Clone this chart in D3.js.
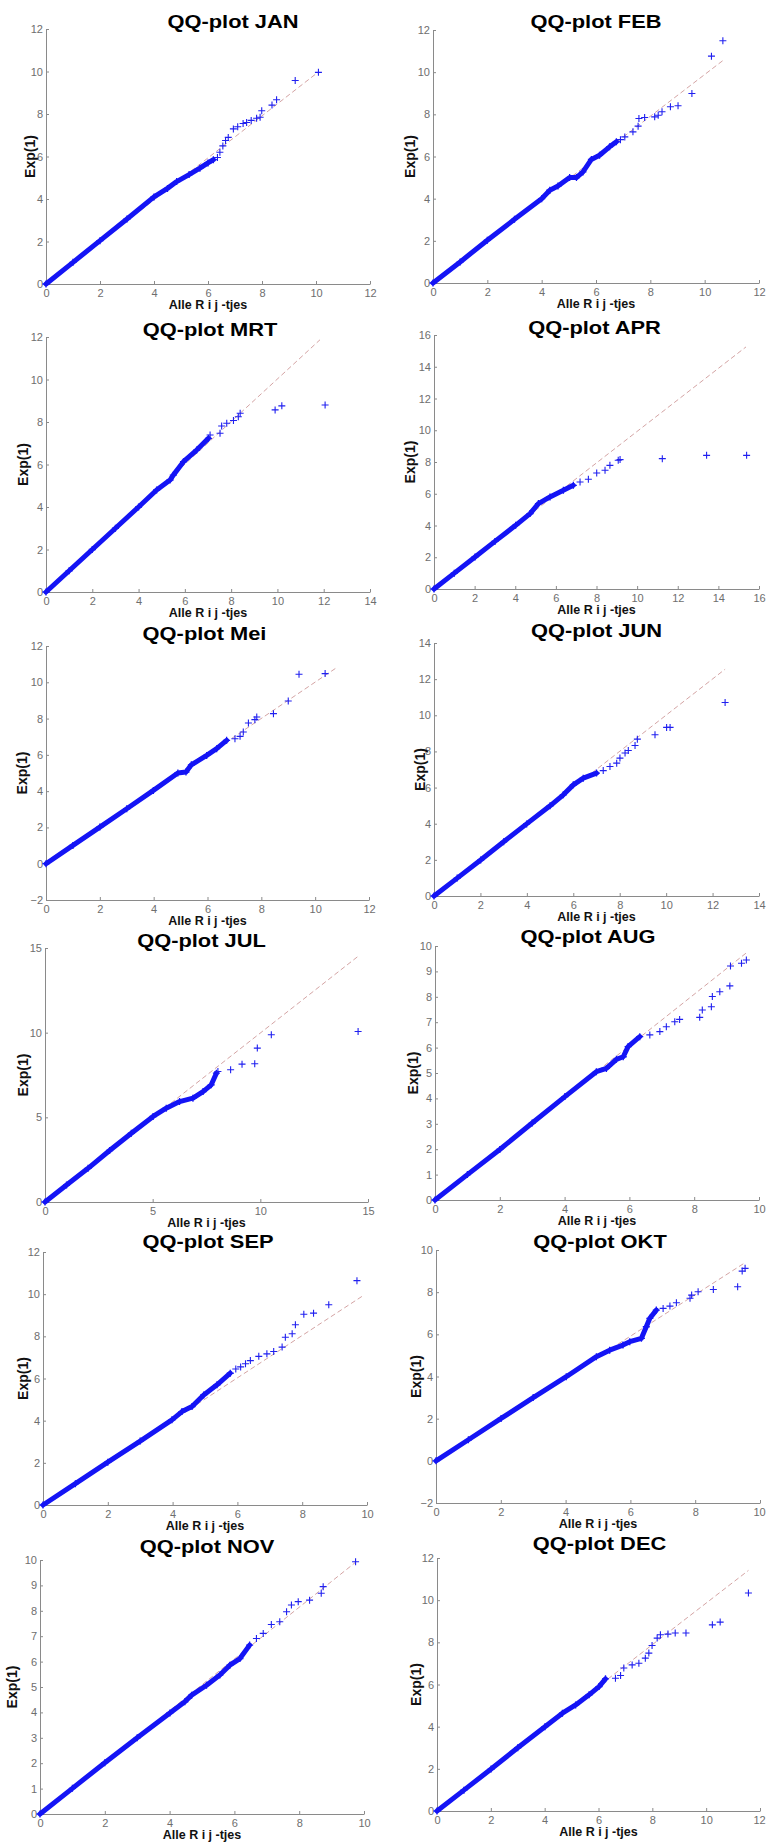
<!DOCTYPE html>
<html>
<head>
<meta charset="utf-8">
<script src="https://cdn.jsdelivr.net/npm/d3@7"></script>
<style>
  body { margin: 0; background: #fff; }
  text { font-family: "Liberation Sans", Arial, sans-serif; }
</style>
</head>
<body>
<div id="my_dataviz"></div>
<script>
// month names and axis ranges
var months = ["JAN", "FEB", "MRT", "APR", "Mei", "JUN", "JUL", "AUG", "SEP", "OKT", "NOV", "DEC"];
var xDomains = [[0,12],[0,12],[0,14],[0,16],[0,12],[0,14],[0,15],[0,10],[0,10],[0,10],[0,10],[0,12]];
var yDomains = [[0,12],[0,12],[0,12],[0,16],[-2,12],[0,14],[0,15],[0,10],[0,12],[-2,10],[0,10],[0,12]];
var xTickStep = [2,2,2,2,2,2,5,2,2,2,2,2];
var yTickStep = [2,2,2,2,2,2,5,1,2,2,1,2];

// end point of the reference line (starts at 0,0)
var refEnds = [[10.09,9.98],[10.67,10.55],[11.84,11.87],[15.36,15.25],[10.8,10.81],[12.54,12.55],
               [14.54,14.51],[9.66,9.78],[9.85,9.9],[9.54,9.4],[9.74,9.91],[11.57,11.41]];

// dense part of each QQ curve (x = Alle R i j -tjes, y = Exp(1))
var curveJAN = [[0,0],[1,1.02],[2,2.04],[3,3.06],[4,4.1],[4.5,4.5],[4.84,4.82],[5.3,5.15],[5.7,5.45],[6.0,5.7],[6.2,5.85]];
var curveFEB = [[0,0],[1,1.0],[2,2.03],[3,3.02],[4,4.0],[4.3,4.4],[4.6,4.6],[5.03,5.0],[5.28,5.0],[5.52,5.27],[5.83,5.86],[6.13,6.06],[6.5,6.46],[6.75,6.7]];
var curveMRT = [[0,0],[1,1.0],[2,2.0],[3,3.0],[4,4.0],[4.78,4.8],[5.36,5.27],[5.5,5.5],[5.94,6.13],[6.51,6.68],[7.02,7.23]];
var curveAPR = [[0,0],[1,1.0],[2.02,2.02],[3,3.0],[4.02,4.01],[4.73,4.75],[5.14,5.38],[5.71,5.8],[6.37,6.22],[6.86,6.53]];
var curveMei = [[0,0],[1,1.01],[2,2.02],[3,3.03],[3.99,4.04],[4.9,5.0],[5.2,5.05],[5.4,5.45],[5.97,5.97],[6.34,6.34],[6.71,6.8]];
var curveJUN = [[0,0],[1,0.99],[2.01,1.99],[3,3.0],[3.99,3.99],[5.0,4.99],[5.57,5.6],[6.0,6.15],[6.43,6.52],[7.0,6.8]];
var curveJUL = [[0,0],[1,1.0],[2,1.99],[3,3.04],[4.01,4.06],[5.02,5.05],[5.63,5.54],[6.25,5.93],[6.87,6.13],[7.34,6.52],[7.72,6.92],[7.96,7.61]];
var curveAUG = [[0,0],[1,1.0],[2,1.99],[3,3.03],[4.01,4.07],[4.98,5.05],[5.29,5.18],[5.6,5.54],[5.81,5.64],[5.96,6.04],[6.32,6.43]];
var curveSEP = [[0,0],[1,1.01],[2,2.03],[3,3.03],[3.98,4.04],[4.29,4.43],[4.6,4.67],[4.96,5.22],[5.37,5.7],[5.78,6.25]];
var curveOKT = [[0,0],[1,1.0],[2.01,2.01],[3,3.0],[4.02,3.99],[4.95,4.94],[5.36,5.25],[5.77,5.49],[5.98,5.65],[6.34,5.81],[6.49,6.36],[6.6,6.76],[6.8,7.15]];
var curveNOV = [[0,0],[1,1.01],[2,2.02],[3,3.0],[4.01,3.98],[4.47,4.42],[4.68,4.68],[5.14,5.07],[5.55,5.47],[5.86,5.86],[6.17,6.12],[6.47,6.65]];
var curveDEC = [[0,0],[1,0.99],[2.01,1.99],[3,3.0],[4.01,4.0],[4.66,4.64],[5.15,5.03],[5.65,5.51],[6.02,5.9],[6.26,6.27]];

// sparse upper tail, drawn as single + markers
var tailJAN = [[6.35,5.95],[6.44,6.2],[6.55,6.5],[6.65,6.75],[6.75,6.9],[6.94,7.3],[7.1,7.4],[7.3,7.55],[7.43,7.6],[7.6,7.7],[7.8,7.8],[7.93,7.85],[7.99,8.15],[8.37,8.42],[8.54,8.67],[9.23,9.58],[10.09,9.96]];
var tailFEB = [[6.9,6.8],[7.06,6.93],[7.36,7.17],[7.55,7.44],[7.58,7.8],[7.79,7.85],[8.16,7.88],[8.29,7.96],[8.43,8.12],[8.74,8.36],[9.02,8.41],[9.53,8.99],[10.25,10.76],[10.67,11.49]];
var tailMRT = [[7.09,7.39],[7.52,7.47],[7.59,7.81],[7.81,7.94],[8.1,8.07],[8.31,8.25],[8.39,8.41],[9.9,8.57],[10.19,8.76],[12.06,8.8]];
var tailAPR = [[7.19,6.74],[7.6,6.91],[8.01,7.31],[8.42,7.48],[8.66,7.79],[9.07,8.11],[9.16,8.15],[11.24,8.21],[13.42,8.42],[15.39,8.42]];
var tailMei = [[7.02,6.89],[7.21,7.02],[7.33,7.26],[7.52,7.76],[7.76,7.94],[7.83,8.09],[8.45,8.27],[9.0,8.97],[9.4,10.44],[10.37,10.48]];
var tailJUN = [[7.29,6.94],[7.58,7.17],[7.87,7.35],[8.01,7.63],[8.23,7.91],[8.37,8.05],[8.66,8.33],[8.76,8.68],[9.52,8.92],[10.02,9.33],[10.17,9.33],[12.54,10.71]];
var tailJUL = [[8.03,7.71],[8.62,7.81],[9.15,8.14],[9.74,8.16],[9.86,9.09],[10.51,9.88],[14.54,10.07]];
var tailAUG = [[6.63,6.5],[6.94,6.63],[7.14,6.82],[7.4,7.02],[7.55,7.11],[8.17,7.19],[8.25,7.48],[8.53,7.61],[8.56,8.01],[8.79,8.2],[9.1,8.43],[9.12,9.21],[9.46,9.32],[9.61,9.45]];
var tailSEP = [[5.95,6.45],[6.1,6.55],[6.25,6.7],[6.4,6.85],[6.66,7.05],[6.91,7.17],[7.12,7.28],[7.38,7.49],[7.48,7.96],[7.69,8.12],[7.79,8.55],[8.05,9.05],[8.35,9.1],[8.82,9.5],[9.69,10.64]];
var tailOKT = [[7.01,7.23],[7.22,7.34],[7.42,7.5],[7.84,7.71],[7.89,7.86],[8.09,8.02],[8.56,8.13],[9.31,8.26],[9.45,9.0],[9.54,9.13]];
var tailNOV = [[6.68,6.91],[6.89,7.11],[7.14,7.46],[7.4,7.57],[7.61,7.96],[7.76,8.23],[7.97,8.36],[8.32,8.42],[8.68,8.69],[8.74,8.95],[9.74,9.93]];
var tailDEC = [[6.63,6.3],[6.82,6.43],[6.94,6.78],[7.25,6.93],[7.5,7.01],[7.74,7.25],[7.87,7.49],[7.99,7.85],[8.18,8.2],[8.3,8.36],[8.58,8.39],[8.85,8.44],[9.25,8.44],[10.23,8.83],[10.52,8.96],[11.57,10.34]];

var curves = [curveJAN, curveFEB, curveMRT, curveAPR, curveMei, curveJUN, curveJUL, curveAUG, curveSEP, curveOKT, curveNOV, curveDEC];
var tails = [tailJAN, tailFEB, tailMRT, tailAPR, tailMei, tailJUN, tailJUL, tailAUG, tailSEP, tailOKT, tailNOV, tailDEC];

// plot boxes [left, top, right, bottom] in page pixels
var boxes = [
  [46, 29, 370, 284], [433, 30, 759, 283],
  [46, 337, 370, 592], [434, 335, 759, 589],
  [46, 646, 369, 900], [434, 643, 759, 896],
  [45, 948, 368, 1202], [435, 946, 759, 1200],
  [43, 1252, 367, 1505], [436, 1250, 760, 1503],
  [40, 1560, 364, 1814], [437, 1558, 760, 1811]
];
var titleDx = [25, 0, 2, -2, -3, 0, -5, -9, 3, 2, 5, 1];
var titleDy = [-1, -2, -1, -1, -6, -6, -1, -3, -4, -2, -7, -8];
var ylabDx = [-16, -23, -23, -24, -24, -14, -22, -22, -20, -20, -28, -21];
var pageW = 766;

var svg = d3.select("#my_dataviz")
  .append("svg")
  .attr("width", pageW)
  .attr("height", 1845);

var plus = function (s) { return "M" + (-s) + ",0h" + (2 * s) + "M0," + (-s) + "v" + (2 * s); };

months.forEach(function (m, i) {
  var b = boxes[i];
  var x = d3.scaleLinear().domain(xDomains[i]).range([b[0], b[2]]);
  var y = d3.scaleLinear().domain(yDomains[i]).range([b[3], b[1]]);
  var g = svg.append("g");

  // x axis
  var xAx = g.append("g")
    .attr("transform", "translate(0," + b[3] + ")")
    .call(d3.axisBottom(x)
      .tickValues(d3.range(xDomains[i][0], xDomains[i][1] + 0.001, xTickStep[i]))
      .tickSize(-3).tickSizeOuter(0).tickPadding(5));
  // keep the last tick label inside the page
  xAx.selectAll(".tick text")
    .attr("dx", function (d) { return x(d) + 7 > pageW ? (pageW - 7 - x(d)) : 0; });

  // y axis
  var yAx = g.append("g")
    .attr("transform", "translate(" + b[0] + ",0)")
    .call(d3.axisLeft(y)
      .tickValues(d3.range(yDomains[i][0], yDomains[i][1] + 0.001, yTickStep[i]))
      .tickSize(-3).tickSizeOuter(0).tickPadding(3));
  [xAx, yAx].forEach(function (a) {
    a.select(".domain").attr("stroke", "#8a8a8a");
    a.selectAll(".tick line").attr("stroke", "#8a8a8a");
    a.selectAll(".tick text")
      .attr("fill", "#6e6e6e")
      .style("font-size", "11px")
      .style("font-family", "'Liberation Sans', Arial, sans-serif");
  });

  // reference line
  g.append("line")
    .attr("x1", x(0)).attr("y1", y(0))
    .attr("x2", x(refEnds[i][0])).attr("y2", y(refEnds[i][1]))
    .attr("stroke", "#d4a4a4")
    .attr("stroke-width", 1)
    .attr("stroke-dasharray", "5,3");

  // dense body of the QQ curve
  g.append("path")
    .datum(curves[i])
    .attr("d", d3.line().x(function (d) { return x(d[0]); }).y(function (d) { return y(d[1]); }))
    .attr("fill", "none")
    .attr("stroke", "#1414f5")
    .attr("stroke-width", 5)
    .attr("stroke-linecap", "round")
    .attr("stroke-linejoin", "round");

  g.selectAll("path.dense")
    .data(curves[i])
    .enter()
    .append("path")
    .attr("class", "dense")
    .attr("transform", function (d) { return "translate(" + x(d[0]) + "," + y(d[1]) + ")"; })
    .attr("d", plus(3.5))
    .attr("stroke", "#1414f5")
    .attr("stroke-width", 1.3);

  // tail markers
  g.selectAll("path.tail")
    .data(tails[i])
    .enter()
    .append("path")
    .attr("class", "tail")
    .attr("transform", function (d) { return "translate(" + x(d[0]) + "," + y(d[1]) + ")"; })
    .attr("d", plus(3.5))
    .attr("stroke", "#2020f0")
    .attr("stroke-width", 1.1);

  // title
  g.append("text")
    .attr("transform", "translate(" + ((b[0] + b[2]) / 2 + titleDx[i]) + "," + (b[1] + titleDy[i]) + ") scale(1.15,1)")
    .attr("text-anchor", "middle")
    .style("font-size", "19px")
    .style("font-weight", "bold")
    .attr("fill", "#000")
    .text("QQ-plot " + m);

  // x label
  g.append("text")
    .attr("x", (b[0] + b[2]) / 2)
    .attr("y", b[3] + 25)
    .attr("text-anchor", "middle")
    .style("font-size", "12.5px")
    .style("font-weight", "bold")
    .attr("fill", "#111")
    .text("Alle R i j -tjes");

  // y label
  g.append("text")
    .attr("transform", "translate(" + (b[0] + ylabDx[i] + 5) + "," + ((b[1] + b[3]) / 2) + ") rotate(-90)")
    .attr("text-anchor", "middle")
    .style("font-size", "14px")
    .style("font-weight", "bold")
    .attr("fill", "#111")
    .text("Exp(1)");
});
</script>
</body>
</html>
